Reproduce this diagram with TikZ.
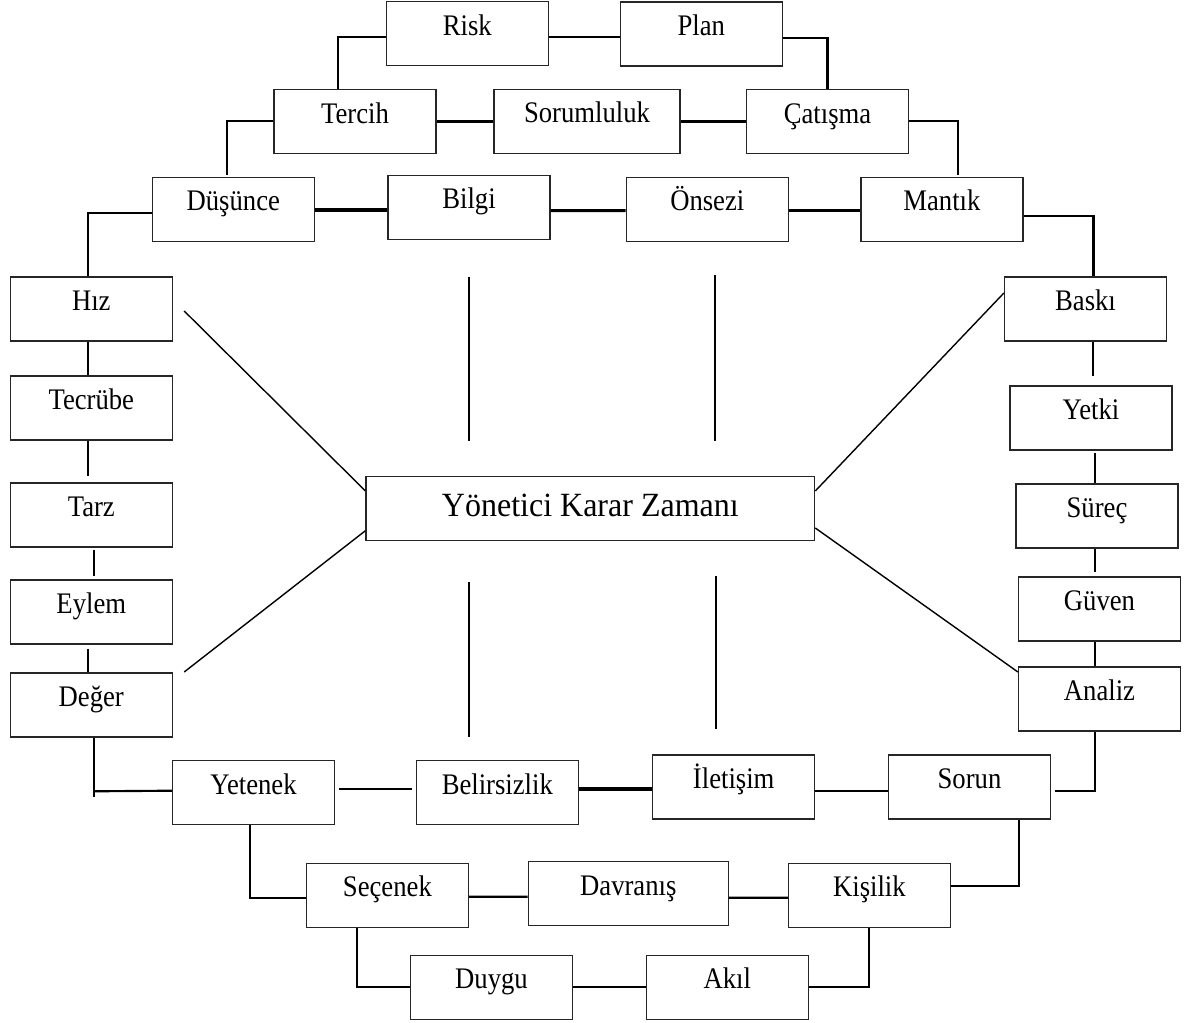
\documentclass[tikz,border=0pt]{standalone}
\usepackage{fontspec}
\usepackage{graphicx}
\setmainfont{Liberation Serif}
\usetikzlibrary{calc}
\newcommand{\tall}[1]{\scalebox{1}[1.12]{#1}}
\begin{document}
\begin{tikzpicture}[x=0.75pt,y=-0.75pt,
  box/.style={draw=black!85, line width=0.9pt, inner sep=0pt, minimum width=121.5pt,
    text height=25.1pt, text depth=22.9pt, font=\fontsize{20}{24}\selectfont},
  conn/.style={line width=1.6pt},
  thk/.style={line width=2.3pt},
  diag/.style={line width=1.05pt},
  mid/.style={line width=1.8pt}]
\useasboundingbox (0,0) rectangle (1196,1023);
% top
\node[box] (risk) at (467.3,33.7) {\tall{Risk}};
\node[box] (plan) at (701.3,34) {\tall{Plan}};
\node[box] (tercih) at (355,121.7) {\tall{Tercih}};
\node[box,minimum width=139.5pt] (sorum) at (587,121.5) {\tall{Sorumluluk}};
\node[box] (catisma) at (827.5,121.7) {\tall{Çatışma}};
\node[box] (dusunce) at (233.3,209.3) {\tall{Düşünce}};
\node[box] (bilgi) at (469,207.2) {\tall{Bilgi}};
\node[box] (onsezi) at (707.3,209.3) {\tall{Önsezi}};
\node[box] (mantik) at (941.9,209.3) {\tall{Mantık}};
% left
\node[box] (hiz) at (91.3,309) {\tall{Hız}};
\node[box] (tecrube) at (91.3,408) {\tall{Tecrübe}};
\node[box] (tarz) at (91.3,515) {\tall{Tarz}};
\node[box] (eylem) at (91.3,612) {\tall{Eylem}};
\node[box] (deger) at (91.3,705) {\tall{Değer}};
% right
\node[box] (baski) at (1085.5,309) {\tall{Baskı}};
\node[box] (yetki) at (1091,418) {\tall{Yetki}};
\node[box] (surec) at (1097,516) {\tall{Süreç}};
\node[box] (guven) at (1099.5,609) {\tall{Güven}};
\node[box] (analiz) at (1099.5,699) {\tall{Analiz}};
% bottom
\node[box] (yetenek) at (253.5,792.8) {\tall{Yetenek}};
\node[box] (belirs) at (497.3,792.8) {\tall{Belirsizlik}};
\node[box] (iletisim) at (733.7,787) {\tall{İletişim}};
\node[box] (sorun) at (969.5,787) {\tall{Sorun}};
\node[box] (secenek) at (387.4,895.3) {\tall{Seçenek}};
\node[box,minimum width=150pt] (davranis) at (628.3,893.7) {\tall{Davranış}};
\node[box] (kisilik) at (869.4,895.3) {\tall{Kişilik}};
\node[box] (duygu) at (491.5,987.2) {\tall{Duygu}};
\node[box] (akil) at (727.2,987.2) {\tall{Akıl}};
% center
\node[box,minimum width=336.5pt,text height=29.5pt,text depth=18.5pt,
  font=\fontsize{24}{29}\selectfont] (center) at (590.35,508.7) {\scalebox{1}[1.06]{Yönetici Karar Zamanı}};

% top connectors
\draw[conn] ($(risk.west)+(0,3)$) -| ($(tercih.north)+(-17,0)$);
\draw[conn] ($(risk.east)+(0,3)$) -- ($(plan.west)+(0,2.7)$);
\draw[conn] ($(plan.east)+(0,4.3)$) -| (catisma.north);
\draw[conn] ($(tercih.west)+(0,-1)$) -| ($(dusunce.north)+(-6.3,-1.6)$);
\draw[thk] (tercih.east) -- (tercih.east -| sorum.west);
\draw[thk] (sorum.east) -- (sorum.east -| catisma.west);
\draw[conn] ($(catisma.east)+(0,-1)$) -| ($(mantik.north)+(15.7,-1.6)$);
\draw[thk] ($(dusunce.east)+(0,0.7)$) -- ($(bilgi.west)+(0,2.8)$);
\draw[thk] ($(bilgi.east)+(0,3.5)$) -- ($(onsezi.west)+(0,1.4)$);
\draw[thk] ($(onsezi.east)+(0,1.4)$) -- ($(mantik.west)+(0,1.4)$);
\draw[conn] ($(dusunce.west)+(0,3.4)$) -| ($(hiz.north)+(-3.6,0)$);
\draw[conn] ($(mantik.east)+(0,6.7)$) -| ($(baski.north)+(8,0)$);
% left chain
\draw[conn] ($(hiz.south)+(-3.6,0)$) -- ($(tecrube.north)+(-3.6,0)$);
\draw[conn] ($(tecrube.south)+(-3.3,0)$) -- ($(tarz.north)+(-3.3,-6.3)$);
\draw[conn] ($(tarz.south)+(2.4,2)$) -- ($(eylem.north)+(2.4,-3)$);
\draw[conn] ($(eylem.south)+(-3.3,4)$) -- ($(deger.north)+(-3.3,0)$);
% right chain
\draw[conn] ($(baski.south)+(7.5,0)$) -- ($(yetki.north)+(2,-9)$);
\draw[conn] ($(yetki.south)+(4,2)$) -- ($(surec.north)+(-2,0)$);
\draw[conn] ($(surec.south)+(-2,0)$) -- ($(guven.north)+(-4.5,-4)$);
\draw[conn] ($(guven.south)+(-4.5,0)$) -- ($(analiz.north)+(-4.5,0)$);
\draw[conn] ($(analiz.south)+(-4.9,0)$) |- ($(sorun.east)+(4,3.7)$);
% bottom
\draw[conn] ($(deger.south)+(2.5,0)$) -- ++(0,59.7);
\draw[conn] ($(deger.south)+(2.5,53.7)$) -- ($(yetenek.west)+(0,-2.1)$);
\draw[conn] ($(yetenek.east)+(3.7,-3.8)$) -- ($(belirs.west)+(-4,-3.8)$);
\draw[thk] ($(belirs.east)+(0,-3.8)$) -- ($(iletisim.west)+(0,2)$);
\draw[conn] ($(iletisim.east)+(0,3.7)$) -- ($(sorun.west)+(0,3.7)$);
\draw[conn] ($(yetenek.south)+(-3.5,0)$) |- ($(secenek.west)+(0,2.4)$);
\draw[conn] ($(secenek.east)+(0,1.4)$) -- ($(davranis.west)+(0,3)$);
\draw[conn] ($(davranis.east)+(0,4)$) -- ($(kisilik.west)+(0,2.4)$);
\draw[conn] ($(sorun.south)+(49.5,0)$) |- ($(kisilik.east)+(0,-9.6)$);
\draw[conn] ($(secenek.south)+(-30.4,0)$) |- ($(duygu.west)+(0,-0.2)$);
\draw[conn] (duygu.east) -- (akil.west);
\draw[conn] ($(kisilik.south)+(-0.4,0)$) |- ($(akil.east)+(0,-0.2)$);
% diagonals
\draw[diag] ($(hiz.east)+(11.3,2)$) -- ($(center.west)+(0,-17.7)$);
\draw[diag] ($(deger.east)+(11.3,-33)$) -- ($(center.west)+(0,22)$);
\draw[diag] ($(baski.west)+(0,-16)$) -- ($(center.east)+(0,-17.7)$);
\draw[diag] ($(analiz.west)+(0,-27)$) -- ($(center.east)+(0,19.3)$);
% free vertical strokes
\coordinate (v1a) at (469,276.7); \coordinate (v1b) at (469,440.7);
\coordinate (v2a) at (715,275);   \coordinate (v2b) at (715,440.7);
\coordinate (v3a) at (469,582);   \coordinate (v3b) at (469,736.7);
\coordinate (v4a) at (716,576);   \coordinate (v4b) at (716,729.3);
\draw[mid] (v1a) -- (v1b);
\draw[mid] (v2a) -- (v2b);
\draw[mid] (v3a) -- (v3b);
\draw[mid] (v4a) -- (v4b);
\end{tikzpicture}
\end{document}
